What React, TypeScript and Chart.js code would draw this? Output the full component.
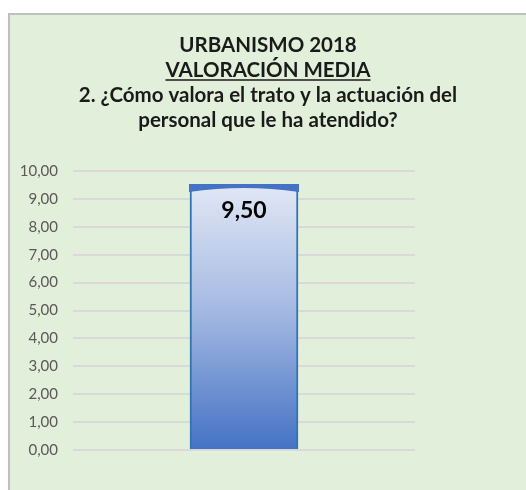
import React, { useEffect, useRef } from "react";
import { Chart, registerables } from "chart.js";

Chart.register(...registerables);

const categories = ["Valoración media"];
const values = [9.5];
const titleLines = [
  "URBANISMO 2018",
  "VALORACIÓN MEDIA",
  "2. ¿Cómo valora el trato y la actuación del",
  "personal que le ha atendido?",
];

const fmt = (v: number) => v.toFixed(2).replace(".", ",");

const TITLE_SIZE = 20.5;
const TITLE_LH = 25;
const TITLE_PAD_TOP = 17.5;

const underlinePlugin = {
  id: "underlineTitle",
  afterDraw(chart: any) {
    const t = chart.titleBlock;
    if (!t) return;
    const ctx = chart.ctx;
    ctx.save();
    ctx.font = `bold ${TITLE_SIZE}px Lato`;
    const w = ctx.measureText(titleLines[1]).width;
    const cx = (t.left + t.right) / 2;
    const y = t.top + TITLE_PAD_TOP + TITLE_LH * 1.5 + 10;
    ctx.strokeStyle = "#1a1a1a";
    ctx.lineWidth = 1.5;
    ctx.beginPath();
    ctx.moveTo(cx - w / 2, y);
    ctx.lineTo(cx + w / 2, y);
    ctx.stroke();
    ctx.restore();
  },
};

const barDecor = {
  id: "barDecor",
  afterDatasetsDraw(chart: any) {
    const ctx = chart.ctx;
    const meta = chart.getDatasetMeta(0);
    meta.data.forEach((bar: any, i: number) => {
      const { x, y, width } = bar.getProps(["x", "y", "width"], true);
      const l = x - width / 2;
      const r = x + width / 2;
      ctx.save();
      ctx.fillStyle = "#4472C4";
      ctx.beginPath();
      ctx.moveTo(l - 1, y - 1);
      ctx.lineTo(r + 1, y - 1);
      ctx.lineTo(r + 1, y + 7);
      ctx.quadraticCurveTo(x, y - 1, l - 1, y + 7);
      ctx.closePath();
      ctx.fill();
      ctx.fillStyle = "#000000";
      ctx.font = "bold 23px Lato";
      ctx.textAlign = "center";
      ctx.textBaseline = "middle";
      ctx.fillText(fmt(values[i]), x, y + 26);
      ctx.restore();
    });
  },
};

export default function App() {
  const ref = useRef<HTMLCanvasElement>(null);
  useEffect(() => {
    const canvas = ref.current!;
    const chart = new Chart(canvas, {
      type: "bar",
      data: {
        labels: categories,
        datasets: [
          {
            data: values,
            backgroundColor: (c: any) => {
              const area = c.chart.chartArea;
              if (!area) return "#A2B8E2";
              const g = c.chart.ctx.createLinearGradient(0, area.top, 0, area.bottom);
              g.addColorStop(0, "#E6ECF7");
              g.addColorStop(0.1, "#DAE2F3");
              g.addColorStop(0.5, "#A4B9E2");
              g.addColorStop(1, "#4472C4");
              return g;
            },
            borderColor: "#2E75B6",
            borderWidth: 2,
            barThickness: 108,
          },
        ],
      },
      options: {
        responsive: false,
        animation: false,
        layout: { padding: { left: 0, right: 0, top: 0, bottom: 40 } },
        plugins: {
          legend: { display: false },
          tooltip: { enabled: false },
          title: {
            display: true,
            text: titleLines,
            color: "#1a1a1a",
            font: { family: "Lato", size: TITLE_SIZE, weight: "bold", lineHeight: TITLE_LH / TITLE_SIZE },
            padding: { top: TITLE_PAD_TOP, bottom: 38.5 },
          },
        },
        scales: {
          x: {
            display: false,
          },
          y: {
            min: 0,
            max: 10,
            ticks: {
              stepSize: 1,
              padding: 15,
              color: "#595959",
              font: { family: "Lato", size: 15 },
              callback: (v: any) => fmt(Number(v)),
            },
            grid: { color: "#D9D9D9", lineWidth: 2, drawTicks: false },
            border: { display: false },
            afterFit: (s: any) => {
              s.width = 63;
            },
          },
          yRight: {
            position: "right",
            display: true,
            min: 0,
            max: 10,
            ticks: { display: false },
            grid: { display: false, drawTicks: false },
            border: { display: false },
            afterFit: (s: any) => {
              s.width = 111;
            },
          },
        },
      },
      plugins: [underlinePlugin, barDecor],
    });
    return () => chart.destroy();
  }, []);
  return (
    <div
      style={{
        position: "fixed",
        left: 8,
        top: 13,
        width: 518,
        height: 477,
        boxSizing: "border-box",
        borderLeft: "2px solid #BFBFBF",
        borderTop: "2px solid #BFBFBF",
        background: "#E2EFDA",
        overflow: "hidden",
      }}
    >
      <canvas ref={ref} width={516} height={475} style={{ display: "block" }} />
    </div>
  );
}
